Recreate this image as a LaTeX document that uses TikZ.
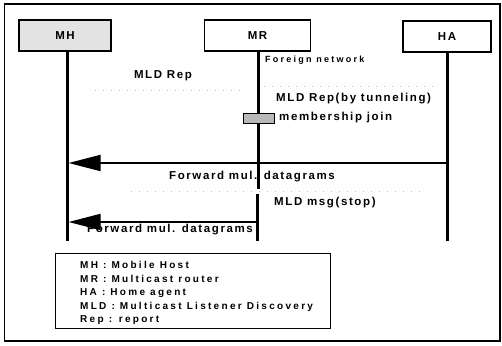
\documentclass[tikz,border=0pt]{standalone}
\usepackage{fontspec}
\setmainfont{Liberation Sans}
\newfontfamily\lsA[LetterSpace=14]{Liberation Sans}
\newfontfamily\lsB[LetterSpace=25]{Liberation Sans}
\newfontfamily\lsC[LetterSpace=23]{Liberation Sans}
\usetikzlibrary{arrows.meta}
\begin{document}
\begin{tikzpicture}[x=1pt,y=-1pt,
  actor/.style={draw, line width=1.6pt, minimum height=31pt, inner sep=0pt,
    font=\lsA\bfseries\fontsize{11.5}{13}\selectfont},
  life/.style={line width=3pt},
  msg/.style={line width=1.8pt, -{Triangle[length=32pt,width=16pt]}},
  faint/.style={gray!55, line width=0.6pt, dash pattern=on 1pt off 7pt},
  lbl/.style={inner sep=0pt, font=\lsA\bfseries\fontsize{11.5}{13}\selectfont},
  small/.style={inner sep=0pt, font=\lsB\bfseries\fontsize{9}{10}\selectfont},
  leglbl/.style={inner sep=0pt, anchor=base west, font=\lsC\bfseries\fontsize{10}{11}\selectfont}]
\useasboundingbox (0,0) rectangle (502,345);
\draw[line width=1.3pt] (4.5,4) rectangle (500,341);

% actors
\node[actor, fill=gray!22, minimum width=92pt] (mh) at (65,35.5) {MH};
\node[actor, fill=white, minimum width=106pt] (mr) at (257.5,35.5) {MR};
\node[actor, fill=white, minimum width=88pt] (ha) at (447,36.5) {HA};

% lifelines
\coordinate (mhT) at (67,51);  \coordinate (mhB) at (67,241);
\coordinate (mrT) at (258,51); \coordinate (mrG1) at (258,189);
\coordinate (mrG2) at (257.5,194); \coordinate (mrB) at (257.5,241);
\coordinate (haT) at (447,52); \coordinate (haB) at (447,241);
\draw[life] (mhT) -- (mhB);
\draw[life] (mrT) -- (mrG1);
\draw[life] (mrG2) -- (mrB);
\draw[life] (haT) -- (haB);

% faint dotted message lines
\coordinate (d1a) at (95,90);  \coordinate (d1b) at (245,90);
\coordinate (d2a) at (433,86); \coordinate (d2b) at (262,86);
\coordinate (d3a) at (420,191); \coordinate (d3b) at (130,191);
\draw[faint] (d1a) -- (d1b);
\draw[faint] (d2a) -- (d2b);
\draw[faint] (d3a) -- (d3b);

% labels
\node[small, anchor=west] (fn) at (265,60) {Foreign network};
\node[lbl] (rep) at (163,76) {MLD Rep};
\node[lbl, anchor=west] (tun) at (276,99) {MLD Rep(by tunneling)};
\node[draw, line width=1pt, fill=gray!55, minimum width=31pt, minimum height=10pt, inner sep=0pt] (mj) at (259,118.5) {};
\node[lbl, anchor=west] (mjt) at (279,118) {membership join};

% forwarded datagrams
\coordinate (a1s) at (447,163); \coordinate (a1e) at (68.5,163);
\draw[msg] (a1s) -- (a1e);
\node[lbl] (f1) at (252,177) {Forward mul. datagrams};
\node[lbl, anchor=west] (stop) at (274,203) {MLD msg(stop)};
\coordinate (a2s) at (258,222); \coordinate (a2e) at (68.5,222);
\draw[msg] (a2s) -- (a2e);
\node[lbl] (f2) at (170,229.5) {Forward mul. datagrams};

% legend
\node[draw, line width=1.4pt, minimum width=275pt, minimum height=75pt, anchor=north west, inner sep=0pt] (leg) at (55,252.5) {};
\node[leglbl] (l1) at (80,268.8) {MH : Mobile Host};
\node[leglbl] (l2) at (80,282.3) {MR : Multicast router};
\node[leglbl] (l3) at (80,295.8) {HA :\ Home agent};
\node[leglbl] (l4) at (80,309.3) {MLD : Multicast Listener Discovery};
\node[leglbl] (l5) at (80,322.8) {Rep : report};
\end{tikzpicture}
\end{document}
